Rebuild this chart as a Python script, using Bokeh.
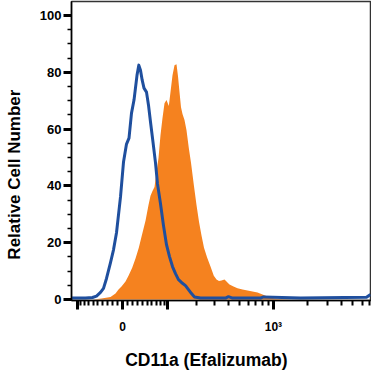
import numpy as np
from bokeh.plotting import figure
from bokeh.models import FixedTicker, CustomJSTickFormatter, Title, Range1d, ColumnDataSource
from bokeh.embed import file_html
from bokeh.resources import INLINE

# ---- data (x in display channel units of the biexponential axis, y = relative cell number)
isotype_x = [0, 14, 21, 25, 29, 32, 35, 39, 42, 45, 49, 52, 55, 57.5, 60, 62.5, 65.5, 67.3, 69, 70.7,
             72.5, 75, 77, 79, 81.5, 84, 86, 89, 92, 95, 98, 101, 104, 107, 110, 114, 117, 120, 123, 129,
             154, 157, 161, 189, 192, 229, 295, 299]
isotype_y = [0.5, 0.5, 0.7, 1.2, 2.5, 3.9, 7.4, 13.0, 17.5, 23.5, 36.1, 48.4, 54.7, 56.8, 65.6, 70.2, 78.9, 82.5, 80.7, 77.2,
             74.4, 73.0, 68.4, 62.5, 55.4, 48.1, 40.7, 33.7, 26.0, 19.3, 15.1, 11.6, 9.1, 7.0, 6.0, 4.9, 3.5, 2.1, 0.9, 0.5,
             0.5, 1.0, 0.5, 0.5, 0.9, 0.5, 0.8, 1.8]

cd11a_x = [22, 30, 39, 44, 47, 50, 54, 57, 60.7, 64, 67.3, 70, 74, 77, 79, 81, 83, 85, 87, 89,
           91, 93, 95, 97.3, 99, 101, 103, 105, 106.5, 108, 109.5, 111, 113, 115, 117.3, 119.5, 122.3, 125, 127.5, 130,
           132.5, 135.7, 139, 142.3, 145, 147.5, 150, 153, 155, 158, 162, 166, 171, 176, 181, 186, 191, 196, 201, 207, 219]
cd11a_y = [0, 0.35, 0.9, 2.1, 3.5, 4.6, 6.3, 8.4, 11.2, 14.4, 18.2, 22.1, 27.7, 33.3, 36.5, 38.2, 39.6, 44.9, 49.8, 57.9,
           63.9, 69.1, 70.2, 68.1, 73.0, 78.9, 82.5, 82.8, 78.6, 73.0, 67.7, 65.3, 63.2, 59.6, 53.3, 48.1, 40.4, 33.3, 27.4, 22.5,
           18.2, 14.7, 11.6, 8.4, 7.0, 6.5, 6.7, 7.0, 6.3, 5.3, 4.6, 4.0, 3.5, 3.2, 2.8, 2.5, 1.8, 1.1, 0.5, 0.2, 0]

y_ticks = [0, 20, 40, 60, 80, 100]
y_minor = [5, 10, 15, 25, 30, 35, 45, 50, 55, 65, 70, 75, 85, 90, 95, 105]
x_major_values = [-100, 0, 100, 1000, 10000]
x_minor_values = ([-v for v in range(10, 100, 10)] + list(range(10, 100, 10)) +
                  list(range(200, 1000, 100)) + list(range(2000, 10000, 1000)))
x_tick_labels = {0: "0", 1000: "10³"}

x_title = "CD11a (Efalizumab)"
y_title = "Relative Cell Number"
watermark = "with permission from R&D Systems"


def disp(v):
    """biexponential (asinh) display transform of the flow axis"""
    return 51 + 49.5 * np.arcsinh(np.asarray(v, dtype=float) / 95.0)


p = figure(width=371, height=372, x_range=Range1d(0, 299), y_range=Range1d(-0.35, 104.9),
           output_backend="svg", toolbar_location=None,
           min_border_left=71, min_border_right=1, min_border_top=1, min_border_bottom=71)
p.xgrid.visible = False
p.ygrid.visible = False
p.background_fill_color = "white"
p.border_fill_color = "white"
p.outline_line_color = "#333333"
p.outline_line_width = 1.5

src_o = ColumnDataSource(dict(x=cd11a_x, y=cd11a_y))
p.varea(x="x", y1=0, y2="y", source=src_o, fill_color="#f5821f", fill_alpha=1.0)
src_b = ColumnDataSource(dict(x=isotype_x, y=isotype_y))
p.line(x="x", y="y", source=src_b, line_color="#1f4f9e", line_width=3, line_join="round")

# x axis
xa = p.xaxis[0]
xa.ticker = FixedTicker(ticks=list(disp(x_major_values)), minor_ticks=list(disp(x_minor_values)))
xa.formatter = CustomJSTickFormatter(
    args=dict(pos=[float(disp(k)) for k in x_tick_labels], labs=list(x_tick_labels.values())),
    code="for (let i = 0; i < pos.length; i++) { if (Math.abs(tick - pos[i]) < 0.01) return labs[i]; } return '';")
xa.major_tick_out = 9
xa.major_tick_in = 0
xa.major_tick_line_width = 3
xa.minor_tick_out = 5
xa.minor_tick_in = 0
xa.minor_tick_line_width = 2
xa.axis_line_width = 1.5
xa.axis_line_color = "black"
xa.major_tick_line_color = "black"
xa.minor_tick_line_color = "black"
xa.major_label_text_font = "Liberation Sans"
xa.major_label_text_font_style = "bold"
xa.major_label_text_font_size = "12px"
xa.major_label_text_color = "black"
xa.major_label_standoff = 10
xa.axis_label = x_title + "\u00a0" * 6
xa.axis_label_text_font = "Liberation Sans"
xa.axis_label_text_font_style = "bold"
xa.axis_label_text_font_size = "17.5px"
xa.axis_label_text_color = "black"
xa.axis_label_standoff = 13

# y axis
ya = p.yaxis[0]
ya.ticker = FixedTicker(ticks=y_ticks, minor_ticks=y_minor)
ya.major_tick_out = 8
ya.major_tick_in = 0
ya.major_tick_line_width = 3
ya.minor_tick_out = 4
ya.minor_tick_in = 0
ya.minor_tick_line_width = 1.5
ya.axis_line_width = 1.5
ya.axis_line_color = "black"
ya.major_tick_line_color = "black"
ya.minor_tick_line_color = "black"
ya.major_label_text_font = "Liberation Sans"
ya.major_label_text_font_style = "bold"
ya.major_label_text_font_size = "13px"
ya.major_label_text_color = "black"
ya.major_label_standoff = 2
ya.axis_label = y_title + "\u00a0" * 10
ya.axis_label_text_font = "Liberation Sans"
ya.axis_label_text_font_style = "bold"
ya.axis_label_text_font_size = "17px"
ya.axis_label_text_color = "black"
ya.axis_label_standoff = 13

# watermark (a title placed above the frame that hangs down over it)
p.add_layout(Title(text=watermark, align="left", offset=-61, vertical_align="top",
                   standoff=-50, text_font="Liberation Serif", text_font_style="italic",
                   text_font_size="12.5px", text_color="#26306a"), "above")

open("out.html", "w").write(file_html(p, INLINE))
